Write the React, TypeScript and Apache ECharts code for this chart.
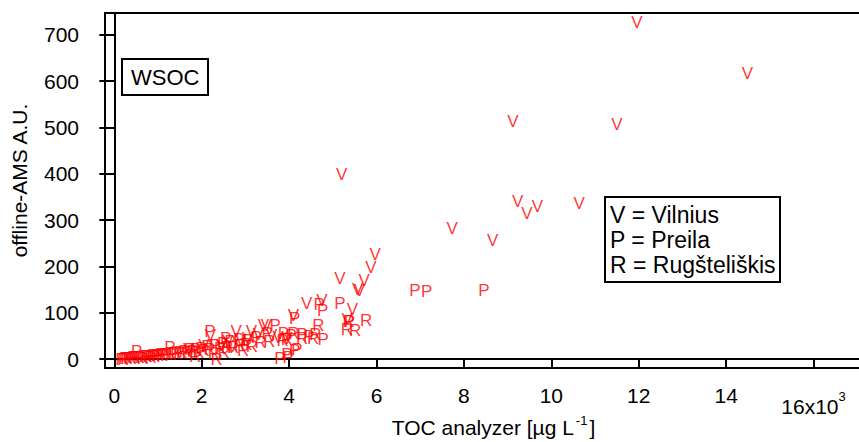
import { useEffect, useRef } from "react";
import * as echarts from "echarts";

// x values in µg/L (axis shown in units of 10^3), y in A.U.
const xTicks = [0, 2000, 4000, 6000, 8000, 10000, 12000, 14000, 16000];
const yTicks = [0, 100, 200, 300, 400, 500, 600, 700];

const vilnius: [number, number][] = [
  [11960, 726], [14490, 617], [9120, 512], [11500, 507], [9230, 340], [9440, 315],
  [9680, 330], [10640, 335], [7730, 282], [8660, 255], [5200, 399], [5970, 226],
  [5870, 198], [5720, 169], [5570, 150], [5610, 147], [5160, 174], [4400, 120],
  [4750, 126], [5450, 107], [4100, 93], [5330, 86],
  [2790, 59], [3140, 59], [3410, 72], [3480, 73], [3050, 45], [3300, 52], [2600, 38],
  [2450, 30], [2900, 40], [3600, 50], [3750, 46], [2200, 50], [2050, 30], [1700, 20],
  [3950, 45], [2700, 28],
];

const preila: [number, number][] = [
  [6880, 147], [7150, 145], [8460, 148], [4690, 117], [4770, 104], [5160, 119],
  [4130, 88], [5380, 82], [3950, 9], [4130, 19], [3790, 2], [3980, 4], [4180, 21],
  [2190, 59], [3680, 73], [3870, 55], [4780, 43], [4050, 50], [4300, 52], [4450, 48],
  [3500, 55],
  [150, 0], [230, 1], [330, 2], [420, 3], [510, 16], [600, 4], [690, 5], [780, 6],
  [870, 8], [960, 7], [1060, 10], [1270, 24], [1150, 9], [1350, 12], [1480, 14],
  [1600, 17], [1720, 20], [1850, 21], [1980, 23], [2120, 28], [2300, 30], [2480, 34],
  [2650, 37], [2850, 42], [3050, 40], [3250, 46], [2550, 45],
];

const rugsteliskis: [number, number][] = [
  [5360, 80], [5320, 64], [5510, 61], [5760, 83], [4670, 73], [2340, 0], [1850, 5],
  [4300, 44], [4550, 45], [4600, 52], [3950, 42], [4100, 55], [3850, 40],
  [200, 0], [280, 2], [380, 1], [470, 3], [560, 4], [650, 2], [740, 5], [830, 4],
  [920, 6], [1010, 8], [1100, 7], [1200, 10], [1300, 9], [1420, 12], [1550, 11],
  [1680, 14], [1800, 16], [1930, 14], [2050, 18], [2180, 20], [2280, 12], [2420, 22],
  [2580, 25], [2720, 24], [2880, 30], [3020, 32], [3150, 28], [3350, 35], [3550, 38],
  [2950, 18], [2500, 15],
];

const sites = [
  { letter: "V", data: vilnius },
  { letter: "P", data: preila },
  { letter: "R", data: rugsteliskis },
];

const legendLines = ["V = Vilnius", "P = Preila", "R = Rugšteliškis"];
const boxTitle = "WSOC";
const xName = "TOC analyzer [µg L";
const yName = "offline-AMS A.U.";

const FONT = "Liberation Sans, Arial, Helvetica, sans-serif";

export default function App() {
  const ref = useRef<HTMLDivElement>(null);

  useEffect(() => {
    if (!ref.current) return;
    const chart = echarts.init(ref.current, null, { renderer: "svg" });
    const axisLineStyle = { color: "#000", width: 2 };
    chart.setOption({
      animation: false,
      backgroundColor: "#fff",
      textStyle: { fontFamily: FONT },
      title: [
        {
          text: boxTitle,
          left: 122,
          top: 59,
          borderColor: "#000",
          borderWidth: 2,
          padding: [6, 9, 6, 9],
          textStyle: { fontSize: 22, fontWeight: "normal", color: "#000", fontFamily: FONT, lineHeight: 24 },
        },
        {
          text: legendLines.join("\n"),
          left: 605,
          top: 197,
          borderColor: "#000",
          borderWidth: 2,
          padding: [5, 5, 5, 5],
          textStyle: { fontSize: 23, fontWeight: "normal", color: "#000", fontFamily: FONT, lineHeight: 25 },
        },
      ],
      grid: {
        left: 105,
        top: 13,
        right: -6,
        bottom: 74,
        outerBoundsMode: "none",
        containLabel: false,
        show: true,
        borderColor: "#000",
        borderWidth: 2,
        backgroundColor: "transparent",
      },
      xAxis: {
        type: "value",
        min: -213,
        max: 17178,
        splitLine: { show: false },
        axisLine: { show: true, lineStyle: axisLineStyle },
        axisTick: { show: true, customValues: xTicks, length: 10, lineStyle: { color: "#000", width: 2 } },
        axisLabel: {
          customValues: xTicks,
          margin: 17,
          fontSize: 21,
          color: "#000",
          fontFamily: FONT,
          formatter: (v: number) =>
            v === 16000 ? "{n|" + v / 1000 + "x10}{s|3}" : String(v / 1000),
          rich: {
            n: { fontSize: 21, color: "#000", fontFamily: FONT, padding: [11, 0, 0, 0] },
            s: { fontSize: 13, color: "#000", fontFamily: FONT, verticalAlign: "top", padding: [5, 0, 0, 0] },
          },
        },
        name: "{a|" + xName + "}{s|-1}{a|]}",
        nameLocation: "middle",
        nameGap: 46,
        nameMoveOverlap: false,
        nameTextStyle: {
          padding: [0, 0, 0, 17],
          rich: {
            a: { fontSize: 21, color: "#000", fontFamily: FONT, lineHeight: 26 },
            s: { fontSize: 13, color: "#000", fontFamily: FONT, verticalAlign: "top", lineHeight: 14, padding: [0, 2, 0, 2] },
          },
        },
      },
      yAxis: {
        type: "value",
        min: -19.4,
        max: 747,
        splitLine: { show: false },
        axisLine: { show: true, lineStyle: axisLineStyle },
        axisTick: { show: true, customValues: yTicks, length: 15, lineStyle: { color: "#000", width: 2 } },
        axisLabel: {
          customValues: yTicks,
          margin: 26,
          fontSize: 21,
          color: "#000",
          fontFamily: FONT,
        },
        name: yName,
        nameLocation: "middle",
        nameRotate: 90,
        nameGap: 75,
        nameMoveOverlap: false,
        nameTextStyle: { fontSize: 21, color: "#000", fontFamily: FONT, padding: [0, 0, 0, 20] },
      },
      series: sites.map((s) => ({
        type: "scatter",
        name: s.letter,
        data: s.data,
        symbol: "rect",
        symbolSize: 1,
        itemStyle: { color: "rgba(0,0,0,0)" },
        label: {
          show: true,
          position: "inside",
          formatter: s.letter,
          color: "#ff0000",
          fontSize: 17,
          fontFamily: FONT,
        },
        emphasis: { disabled: true },
      })),
    });
    return () => chart.dispose();
  }, []);

  return (
    <div
      ref={ref}
      style={{ position: "fixed", left: 0, top: 0, width: 859, height: 442, background: "#fff" }}
    />
  );
}
